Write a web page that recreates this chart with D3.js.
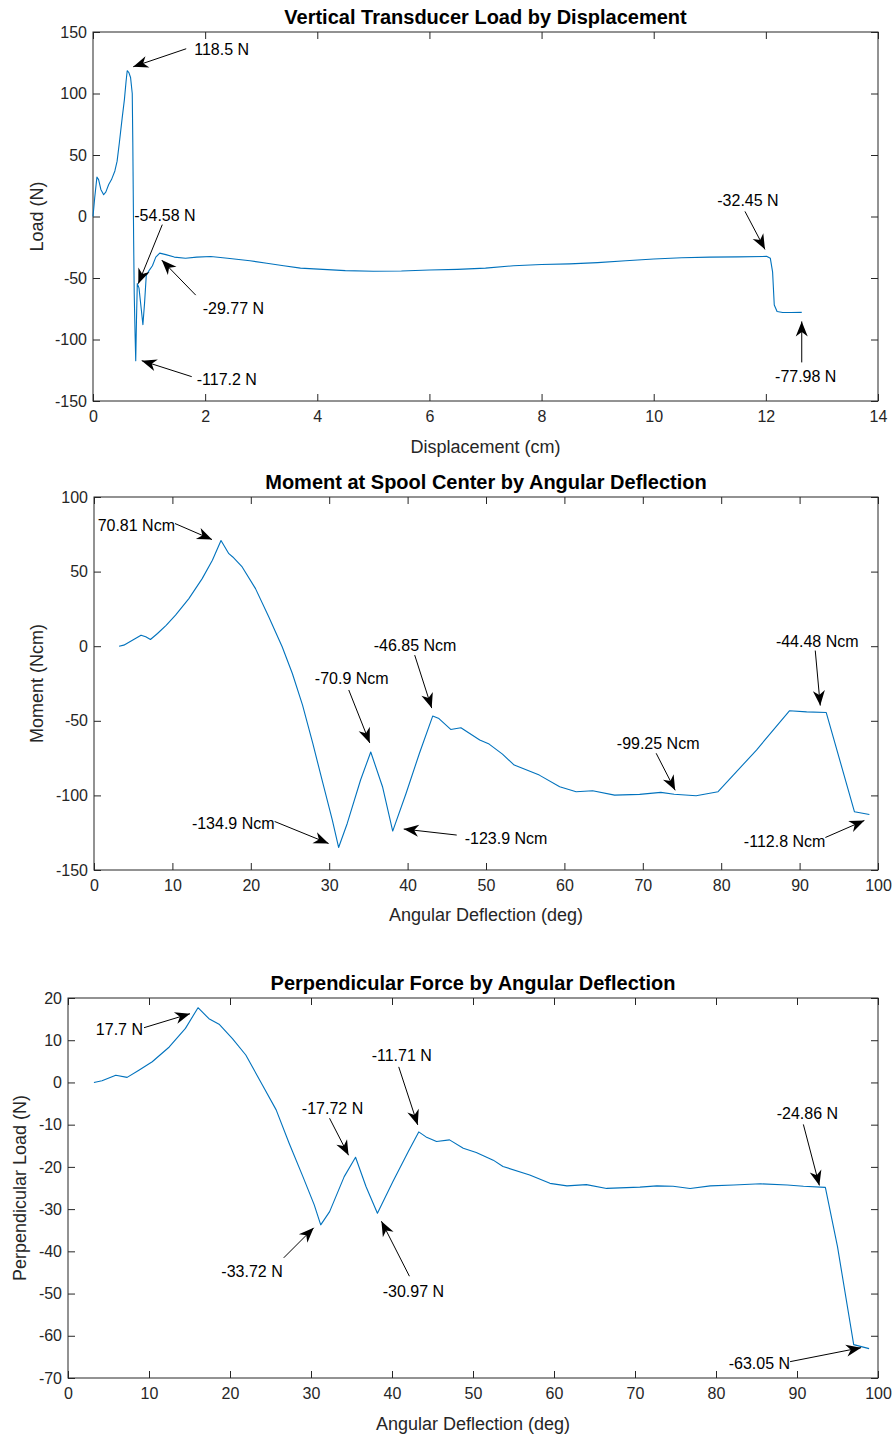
<!DOCTYPE html>
<html>
<head>
<meta charset="utf-8">
<script src="https://cdn.jsdelivr.net/npm/d3@7"></script>
<style>
  html, body { margin: 0; padding: 0; background: #fff; }
  svg { display: block; font-family: "Liberation Sans", Arial, Helvetica, sans-serif; }
</style>
</head>
<body>
<svg id="fig" width="894" height="1439"></svg>
<script>
// ---- Vertical transducer load vs displacement ----
const displacement = [0, 0.03, 0.07, 0.1, 0.14, 0.19, 0.23, 0.28, 0.33, 0.39, 0.43, 0.47, 0.52, 0.56, 0.59, 0.61,
  0.64, 0.67, 0.70, 0.71, 0.725, 0.735, 0.75, 0.762, 0.775, 0.79, 0.82, 0.86, 0.89, 0.92, 0.95, 1.0, 1.06, 1.12, 1.19,
  1.3, 1.45, 1.65, 1.85, 2.1, 2.4, 2.8, 3.1, 3.4, 3.7, 4.1, 4.5, 5.0, 5.5, 6.0, 6.5, 7.0, 7.5, 8.0, 8.5, 9.0,
  9.5, 10.0, 10.5, 11.0, 11.5, 12.02, 12.08, 12.12, 12.15, 12.2, 12.3, 12.45, 12.64];
const load = [0, 15, 32, 30, 22, 17.7, 20, 26, 30, 37, 45, 60, 80, 95, 110, 118.5,
  117, 113, 100, 60, -20, -62, -95, -117.2, -85, -54.58, -58, -75, -88, -70, -48, -44, -40, -33, -29.77,
  -31, -33, -34, -33, -32.5, -34, -36, -38, -40, -42, -43, -44, -44.5, -44.3, -43.5, -43, -42, -40, -39, -38.5, -37.5,
  -36, -34.5, -33.5, -33, -32.8, -32.45, -34, -45, -72, -77.3, -78, -78, -77.98];

// ---- Moment at spool center vs angular deflection ----
const angleMoment = [3.2, 3.8, 4.9, 6.0, 6.6, 7.2, 8.1, 9.2, 10.4, 12.1, 13.8, 15.1, 16.2, 17.2, 17.7, 18.9, 20.6,
  22.3, 24.0, 25.3, 26.6, 27.9, 29.2, 30.4, 31.2, 32.3, 34.0, 35.3, 36.8, 38.1, 39.8, 41.5, 43.2, 44.0, 45.5, 46.8,
  49.2, 50.4, 52.1, 53.6, 56.8, 59.4, 61.5, 63.6, 66.4, 69.6, 72.3, 74.0, 76.8, 79.6, 84.5, 88.7, 90.9, 93.4, 97.0, 98.9];
const moment = [0, 0.7, 4, 7.4, 6.3, 4.5, 8.5, 14, 20.8, 31.9, 45.3, 57.6, 70.81, 62, 59.8, 53.1, 38.6,
  19.6, -0.4, -18.3, -39.5, -65, -92, -116.5, -134.9, -118.8, -89.7, -70.9, -94.2, -123.9, -98.7, -71.9, -46.85, -48.5, -55.8, -54.7,
  -62.9, -65.6, -72.3, -79.7, -86.4, -94.2, -97.6, -96.9, -99.8, -99.3, -98.0, -99.25, -100.2, -97.5, -69.6, -43.3, -44, -44.48, -111, -112.8];

// ---- Perpendicular force vs angular deflection ----
const angleForce = [3.2, 4.2, 5.9, 7.3, 8.75, 10.4, 12.5, 14.5, 16.05, 17.4, 18.65, 20.3, 21.95, 24.0, 25.7, 27.3,
  29.0, 30.4, 31.2, 32.3, 34.1, 35.5, 36.8, 38.2, 40.1, 42.0, 43.3, 44.2, 45.5, 47.1, 48.8, 50.4, 52.5, 53.7, 57.0,
  59.5, 61.6, 64.0, 66.5, 70.6, 72.7, 74.7, 76.8, 79.3, 82.2, 85.5, 88.8, 90.8, 93.5, 95.0, 97.0, 98.9];
const perpForce = [0, 0.4, 1.7, 1.2, 2.9, 4.9, 8.4, 12.8, 17.7, 15.1, 13.8, 10.4, 6.5, -0.6, -6.5, -14.4,
  -22.3, -29, -33.72, -30.6, -22.3, -17.72, -24.7, -30.97, -23.5, -16.4, -11.71, -12.9, -14.0, -13.6, -15.6, -16.6, -18.4, -19.9, -21.9,
  -23.9, -24.5, -24.2, -25.1, -24.8, -24.5, -24.6, -25.1, -24.5, -24.3, -24.0, -24.3, -24.6, -24.86, -38.9, -62.1, -63.05];

// Tick values
const loadXTicks = [0, 2, 4, 6, 8, 10, 12, 14];
const loadYTicks = [-150, -100, -50, 0, 50, 100, 150];
const angleTicks = [0, 10, 20, 30, 40, 50, 60, 70, 80, 90, 100];
const momentYTicks = [-150, -100, -50, 0, 50, 100];
const forceYTicks = [-70, -60, -50, -40, -30, -20, -10, 0, 10, 20];

// x positions of the called-out samples
const loadMarks = [0.61, 0.79, 1.19, 0.762, 12.02, 12.64];
const momentMarks = [16.2, 31.2, 35.3, 43.2, 38.1, 74.0, 93.4, 98.9];
const forceMarks = [16.05, 31.2, 35.5, 38.2, 43.3, 93.5, 98.9];

// Callout geometry, in pixels relative to the called-out sample
const loadCallouts = [
  {tip: [6, -4], tail: [59, -22], text: [67, -21], anchor: "start"},
  {tip: [1, 0], tail: [25, -59], text: [-3, -68], anchor: "start"},
  {tip: [2, 7], tail: [36, 42], text: [43, 55], anchor: "start"},
  {tip: [6, 0], tail: [56, 16], text: [61, 19], anchor: "start"},
  {tip: [-2, -7], tail: [-22, -45], text: [-19, -56], anchor: "middle"},
  {tip: [0, 9], tail: [0, 50], text: [4, 64], anchor: "middle"}
];
const momentCallouts = [
  {tip: [-9, -1], tail: [-46, -17], text: [-46, -15], anchor: "end"},
  {tip: [-10, -4], tail: [-64, -26], text: [-64, -24], anchor: "end"},
  {tip: [-1, -9], tail: [-22, -62], text: [-19, -73], anchor: "middle"},
  {tip: [-1, -8], tail: [-18, -61], text: [-59, -71], anchor: "start"},
  {tip: [11, -2], tail: [64, 4], text: [72, 7], anchor: "start"},
  {tip: [1, -4], tail: [-18, -41], text: [-16, -51], anchor: "middle"},
  {tip: [-6, -7], tail: [-11, -62], text: [-9, -71], anchor: "middle"},
  {tip: [-5, 6], tail: [-44, 23], text: [-44, 27], anchor: "end"}
];
const forceCallouts = [
  {tip: [-8, 6], tail: [-54, 20], text: [-55, 22], anchor: "end"},
  {tip: [-7, 3], tail: [-37, 33], text: [-38, 47], anchor: "end"},
  {tip: [-7, -2], tail: [-26, -39], text: [-23, -49], anchor: "middle"},
  {tip: [4, 8], tail: [32, 63], text: [36, 78], anchor: "middle"},
  {tip: [-1, -7], tail: [-20, -65], text: [-17, -76], anchor: "middle"},
  {tip: [-6, -2], tail: [-22, -63], text: [-18, -74], anchor: "middle"},
  {tip: [-8, -1], tail: [-79, 13], text: [-79, 15], anchor: "end"}
];

const panels = [
  {title: "Vertical Transducer Load by Displacement", xLabel: "Displacement (cm)", yLabel: "Load (N)",
   xs: displacement, ys: load, xDomain: [0, 14], yDomain: [-150, 150], xTicks: loadXTicks, yTicks: loadYTicks,
   box: {left: 93, right: 878, top: 32, bottom: 401}, titleY: 17, xLabelY: 447, yLabelX: 37,
   marks: loadMarks, callouts: loadCallouts, unit: "N"},
  {title: "Moment at Spool Center by Angular Deflection", xLabel: "Angular Deflection (deg)", yLabel: "Moment (Ncm)",
   xs: angleMoment, ys: moment, xDomain: [0, 100], yDomain: [-150, 100], xTicks: angleTicks, yTicks: momentYTicks,
   box: {left: 94, right: 878, top: 497, bottom: 870}, titleY: 482, xLabelY: 915, yLabelX: 37,
   marks: momentMarks, callouts: momentCallouts, unit: "Ncm"},
  {title: "Perpendicular Force by Angular Deflection", xLabel: "Angular Deflection (deg)", yLabel: "Perpendicular Load (N)",
   xs: angleForce, ys: perpForce, xDomain: [0, 100], yDomain: [-70, 20], xTicks: angleTicks, yTicks: forceYTicks,
   box: {left: 68, right: 878, top: 998, bottom: 1378}, titleY: 983, xLabelY: 1424, yLabelX: 20,
   marks: forceMarks, callouts: forceCallouts, unit: "N"}
];

const AXIS = "#262626";
const LINE = "#0072BD";
const fmtVal = d3.formatLocale({decimal: ".", thousands: ",", grouping: [3], currency: ["", ""], minus: "-"}).format(".4~g");
const tickFmt = d => String(d);

const svg = d3.select("#fig");

// dart-shaped arrowhead pointing from tail to tip
function arrowHead(g, tip, tail) {
  const ang = Math.atan2(tip[1] - tail[1], tip[0] - tail[0]);
  const L = 15, W = 12, notch = 10.5;
  const pts = [[0, 0], [-L, W / 2], [-notch, 0], [-L, -W / 2]].map(([px, py]) => [
    tip[0] + px * Math.cos(ang) - py * Math.sin(ang),
    tip[1] + px * Math.sin(ang) + py * Math.cos(ang)
  ]);
  g.append("path").attr("d", "M" + pts.map(p => p.join(",")).join("L") + "Z").attr("fill", "#000");
}

panels.forEach(p => {
  const b = p.box;
  const x = d3.scaleLinear().domain(p.xDomain).range([b.left, b.right]);
  const y = d3.scaleLinear().domain(p.yDomain).range([b.bottom, b.top]);
  const g = svg.append("g");

  // white plot area
  g.append("rect").attr("x", b.left).attr("y", b.top)
    .attr("width", b.right - b.left).attr("height", b.bottom - b.top).attr("fill", "#fff");

  // axes with inward ticks on all four sides
  const styleAxis = sel => {
    sel.select(".domain").remove();
    sel.selectAll(".tick line").attr("stroke", AXIS);
    sel.selectAll(".tick text").attr("fill", AXIS).style("font-size", "16px")
      .style("font-family", "'Liberation Sans', Arial, sans-serif");
  };
  g.append("g").attr("transform", `translate(0,${b.bottom})`)
    .call(d3.axisBottom(x).tickValues(p.xTicks).tickFormat(tickFmt).tickSize(-7).tickPadding(10)).call(styleAxis);
  g.append("g").attr("transform", `translate(0,${b.top})`)
    .call(d3.axisTop(x).tickValues(p.xTicks).tickFormat("").tickSize(-7)).call(styleAxis);
  g.append("g").attr("transform", `translate(${b.left},0)`)
    .call(d3.axisLeft(y).tickValues(p.yTicks).tickFormat(tickFmt).tickSize(-7).tickPadding(6)).call(styleAxis);
  g.append("g").attr("transform", `translate(${b.right},0)`)
    .call(d3.axisRight(y).tickValues(p.yTicks).tickFormat("").tickSize(-7)).call(styleAxis);

  g.append("rect").attr("x", b.left).attr("y", b.top)
    .attr("width", b.right - b.left).attr("height", b.bottom - b.top)
    .attr("fill", "none").attr("stroke", AXIS).attr("stroke-width", 1);

  // data line
  const pts = p.xs.map((v, i) => [v, p.ys[i]]);
  g.append("path").datum(pts)
    .attr("d", d3.line().x(d => x(d[0])).y(d => y(d[1])))
    .attr("fill", "none").attr("stroke", LINE).attr("stroke-width", 1.1).attr("stroke-linejoin", "round");

  // callouts
  p.marks.forEach((mx, i) => {
    const val = p.ys[p.xs.indexOf(mx)];
    const c = p.callouts[i];
    const px = x(mx), py = y(val);
    const tip = [px + c.tip[0], py + c.tip[1]];
    const tail = [px + c.tail[0], py + c.tail[1]];
    g.append("line").attr("x1", tail[0]).attr("y1", tail[1]).attr("x2", tip[0]).attr("y2", tip[1])
      .attr("stroke", "#000").attr("stroke-width", 1);
    arrowHead(g, tip, tail);
    g.append("text").attr("x", px + c.text[0]).attr("y", py + c.text[1])
      .attr("text-anchor", c.anchor).attr("dominant-baseline", "central")
      .style("font-size", "16px").attr("fill", "#000")
      .text(fmtVal(val) + " " + p.unit);
  });

  // title and axis labels
  const cx = (b.left + b.right) / 2;
  g.append("text").attr("x", cx).attr("y", p.titleY).attr("text-anchor", "middle")
    .attr("dominant-baseline", "central").style("font-size", "20px").style("font-weight", "bold")
    .attr("fill", "#000").text(p.title);
  g.append("text").attr("x", cx).attr("y", p.xLabelY).attr("text-anchor", "middle")
    .attr("dominant-baseline", "central").style("font-size", "18px").attr("fill", AXIS).text(p.xLabel);
  g.append("text").attr("transform", `translate(${p.yLabelX},${(b.top + b.bottom) / 2}) rotate(-90)`)
    .attr("text-anchor", "middle").attr("dominant-baseline", "central")
    .style("font-size", "18px").attr("fill", AXIS).text(p.yLabel);
});
</script>
</body>
</html>
